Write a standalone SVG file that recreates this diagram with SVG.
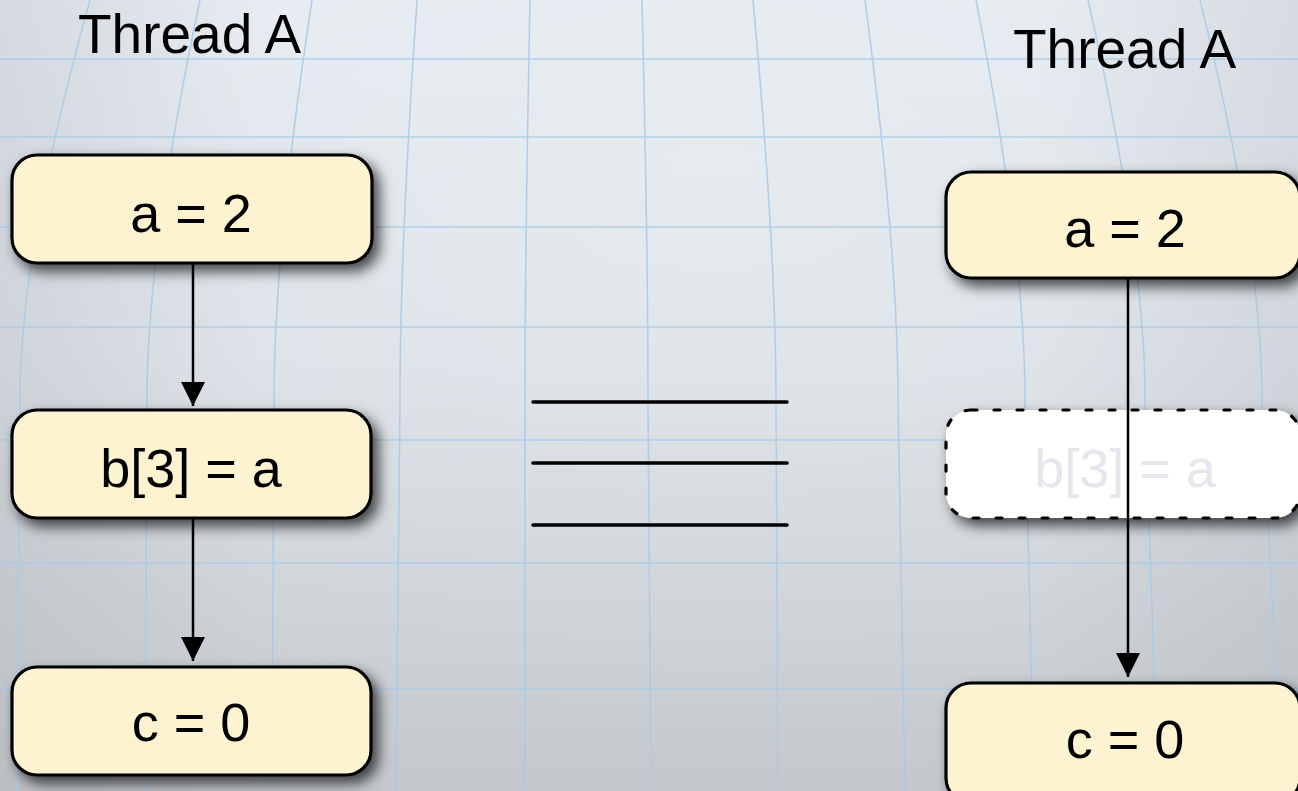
<svg xmlns="http://www.w3.org/2000/svg" width="1298" height="791" viewBox="0 0 1298 791">
<defs>
<linearGradient id="bg" x1="0" y1="0" x2="0" y2="1">
<stop offset="0" stop-color="#e4eaf0"/>
<stop offset="0.45" stop-color="#dbe1e7"/>
<stop offset="1" stop-color="#c4c8cd"/>
</linearGradient>
<radialGradient id="glow" cx="0.55" cy="0.25" r="0.7">
<stop offset="0" stop-color="#ffffff" stop-opacity="0.2"/>
<stop offset="1" stop-color="#ffffff" stop-opacity="0"/>
</radialGradient>
<linearGradient id="sideL" x1="0" y1="0" x2="1" y2="0">
<stop offset="0" stop-color="#9aa0a6" stop-opacity="0.22"/>
<stop offset="0.2" stop-color="#9aa0a6" stop-opacity="0"/>
<stop offset="0.8" stop-color="#9aa0a6" stop-opacity="0"/>
<stop offset="1" stop-color="#9aa0a6" stop-opacity="0.2"/>
</linearGradient>
<filter id="shadow" x="-15%" y="-30%" width="135%" height="170%">
<feDropShadow dx="6" dy="7" stdDeviation="7" flood-color="#000" flood-opacity="0.7"/>
</filter>
<marker id="arrow" viewBox="0 0 24 28" refX="24" refY="12" markerWidth="24" markerHeight="28" markerUnits="userSpaceOnUse" orient="auto">
<path d="M0,0 L28,12 L0,24 z" transform="scale(0.86,1)" fill="#000"/>
</marker>
<style>
.grid{fill:none;stroke:#a9cae8;stroke-width:1.6;opacity:0.85}
.box{fill:#fef3d1;stroke:#000;stroke-width:3.2}
.ghost{fill:#ffffff;stroke:#000;stroke-width:3.2;stroke-dasharray:6 17;stroke-linecap:round}
.lbl{font-family:"Liberation Sans",Arial,sans-serif;font-size:54px;fill:#000;text-anchor:middle}
.title{font-family:"Liberation Sans",Arial,sans-serif;font-size:55px;fill:#000}
.faint{fill:#e6e6ec}
.conn{stroke:#000;stroke-width:2.5;fill:none}
.eq{stroke:#000;stroke-width:3.5;stroke-linecap:round}
</style>
</defs>
<g id="background">
<rect x="0" y="0" width="1298" height="791" fill="url(#bg)"/>
<rect x="0" y="0" width="1298" height="791" fill="url(#glow)"/>
<rect x="0" y="0" width="1298" height="791" fill="url(#sideL)"/>
<g class="grid">
<path d="M0,59 L1298,59"/>
<path d="M0,137 L1298,137"/>
<path d="M0,227 L1298,227"/>
<path d="M0,327 L1298,327"/>
<path d="M0,440 L1298,440"/>
<path d="M0,563 L1298,563"/>
<path d="M0,689 L1298,689"/>
<path d="M90,0 Q20,250 20,400 L17,791"/>
<path d="M200,0 Q147,250 147,400 L145,791"/>
<path d="M312,0 Q274,250 274,400 L272,791"/>
<path d="M417,0 Q400,250 400,400 L396,791"/>
<path d="M530,0 Q525,250 525,400 L525,791"/>
<path d="M642,0 Q648,250 648,400 L651,791"/>
<path d="M753,0 Q776,250 776,400 L778,791"/>
<path d="M865,0 Q898,250 898,400 L905,791"/>
<path d="M976,0 Q1025,250 1025,400 L1034,791"/>
<path d="M1088,0 Q1145,250 1145,400 L1158,791"/>
<path d="M1200,0 Q1262,250 1262,400 L1282,791"/>
</g>
</g>
<g id="title-left"><text class="title" x="78" y="53">Thread A</text></g>
<g id="title-right"><text class="title" x="1013" y="68">Thread A</text></g>
<g id="left-a"><rect class="box" x="12" y="155" width="360" height="108" rx="25" filter="url(#shadow)"/><text class="lbl" x="191" y="232">a = 2</text></g>
<g id="left-b"><rect class="box" x="12" y="410" width="359" height="108" rx="25" filter="url(#shadow)"/><text class="lbl" x="191" y="487">b[3] = a</text></g>
<g id="left-c"><rect class="box" x="12" y="667" width="359" height="108" rx="25" filter="url(#shadow)"/><text class="lbl" x="191" y="741">c = 0</text></g>
<g id="right-a"><rect class="box" x="946" y="172" width="354" height="106" rx="25" filter="url(#shadow)"/><text class="lbl" x="1125" y="247">a = 2</text></g>
<g id="right-b"><rect class="ghost" x="946" y="410" width="354" height="108" rx="25" filter="url(#shadow)"/><text class="lbl faint" x="1125" y="487">b[3] = a</text></g>
<g id="right-c"><rect class="box" x="946" y="683" width="354" height="120" rx="25" filter="url(#shadow)"/><text class="lbl" x="1125" y="758">c = 0</text></g>
<g id="equals">
<line class="eq" x1="533" y1="402" x2="787" y2="402"/>
<line class="eq" x1="533" y1="463" x2="787" y2="463"/>
<line class="eq" x1="533" y1="525" x2="787" y2="525"/>
</g>
<g id="connectors">
<line class="conn" x1="193" y1="263" x2="193" y2="406" marker-end="url(#arrow)"/>
<line class="conn" x1="193" y1="518" x2="193" y2="661" marker-end="url(#arrow)"/>
<line class="conn" x1="1128" y1="278" x2="1128" y2="677" marker-end="url(#arrow)"/>
</g>
</svg>
